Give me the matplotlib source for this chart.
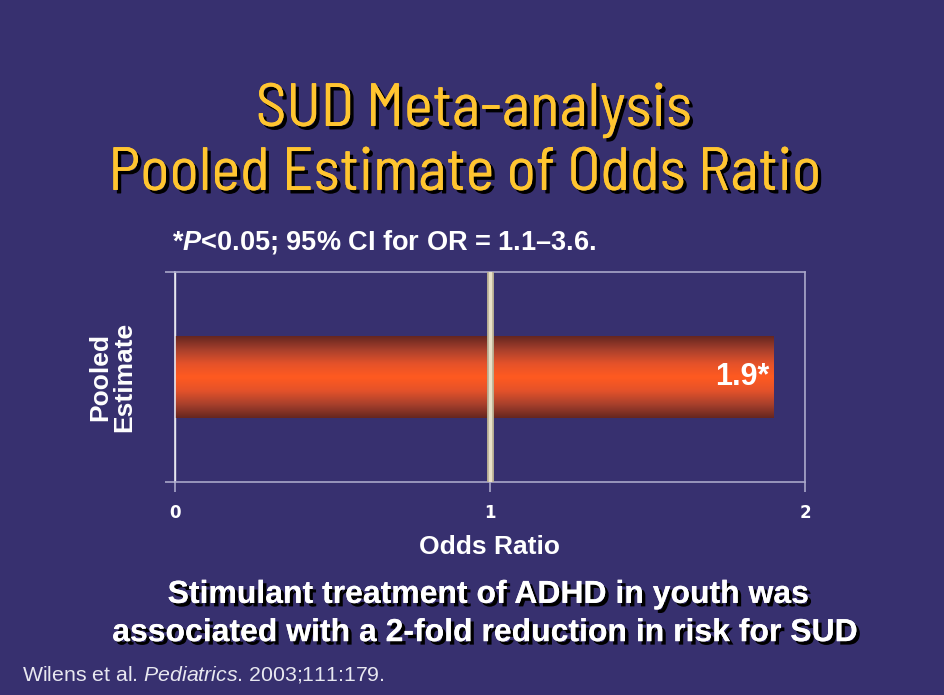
import numpy as np
import matplotlib
matplotlib.use('Agg')
import matplotlib.pyplot as plt
import matplotlib.patheffects as pe
from matplotlib.colors import LinearSegmentedColormap

plt.rcParams['mathtext.fontset'] = 'custom'
plt.rcParams['mathtext.it'] = 'Liberation Sans:italic'
plt.rcParams['mathtext.bfit'] = 'Liberation Sans:italic:bold'
plt.rcParams['mathtext.rm'] = 'Liberation Sans'

# data
categories = ['Pooled\nEstimate']
odds_ratio = [1.9]
bar_labels = ['1.9*']
x_ticks = [0, 1, 2]

bg = '#37306f'
title_col = '#ffc530'
title_font = ['Barlow Semi Condensed', 'Archivo Narrow', 'Liberation Sans']

fig = plt.figure(figsize=(9.45, 6.95), dpi=100)
fig.patch.set_facecolor(bg)

shadow = [pe.withSimplePatchShadow(offset=(2.5, -2.5), shadow_rgbFace='black', alpha=1.0), pe.Normal()]

# title
fig.text(0.5016, 0.8187, 'SUD Meta-analysis', ha='center', va='baseline', color=title_col,
         fontsize=44, family=title_font, path_effects=shadow)
fig.text(0.492, 0.7266, 'Pooled Estimate of Odds Ratio', ha='center', va='baseline', color=title_col,
         fontsize=44, family=title_font, path_effects=shadow)

# footnote above chart
fig.text(0.182, 0.652, r'*$\mathbfit{P}$<0.05; 95% CI for OR = 1.1–3.6.', ha='left', va='center',
         color='white', fontsize=19.5, fontweight='bold', family='Liberation Sans')

ax = fig.add_axes([0.185, 0.3065, 0.667, 0.302])
ax.set_facecolor(bg)

y = np.arange(len(categories))
bars = ax.barh(y, odds_ratio, height=0.78, color='none', edgecolor='none', zorder=2)

# gradient fill for the bar
cmap = LinearSegmentedColormap.from_list('bar', ['#652620', '#a8402c', '#e4522a', '#ff5a20',
                                                  '#e4522a', '#a8402c', '#652620'])
grad = np.linspace(0, 1, 256).reshape(-1, 1)
for b, lab in zip(bars, bar_labels):
    x0, y0 = b.get_x(), b.get_y()
    im = ax.imshow(grad, cmap=cmap, aspect='auto', extent=[x0, x0 + b.get_width(), y0, y0 + b.get_height()],
                   zorder=2, interpolation='bicubic')
    im.set_clip_path(b)
    ax.text(x0 + b.get_width() - 0.012, y0 + b.get_height() / 2, lab, ha='right', va='center',
            color='white', fontsize=22, fontweight='bold', family='Liberation Sans', zorder=4)

ax.set_xlim(0, 2)
ax.set_ylim(-1, 1)

# reference line at OR = 1
ax.axvline(1, color='#b8ae92', lw=5, zorder=3)
ax.axvline(1, color='#e8e0c8', lw=2.5, zorder=3)

for s in ['left', 'right', 'top', 'bottom']:
    ax.spines[s].set_color('#a8a6c8')
    ax.spines[s].set_linewidth(1.2)
ax.spines['left'].set_color('#e8e8f0')

ax.set_xticks(x_ticks)
ax.set_xticklabels([str(t) for t in x_ticks], color='white', fontsize=12, fontweight='bold')
ax.set_yticks([-1, 1])
ax.set_yticklabels([])
ax.tick_params(axis='both', direction='out', length=7, color='#a8a6c8', width=1.2)
ax.tick_params(axis='x', pad=9)
ax.grid(axis='x', color='#e0e0ea', lw=1, zorder=1)

ax.set_xlabel('Odds Ratio', color='white', fontsize=19, fontweight='bold', family='Liberation Sans', labelpad=9)
fig.text(0.119, 0.457, categories[0], rotation=90, ha='center', va='center', color='white',
         fontsize=19, fontweight='bold', family='Liberation Sans', linespacing=1.0)

# bottom statement
fig.text(0.517, 0.144, 'Stimulant treatment of ADHD in youth was', ha='center', va='center', color='white',
         fontsize=23, fontweight='bold', family='Liberation Sans', path_effects=shadow)
fig.text(0.513, 0.089, 'associated with a 2-fold reduction in risk for SUD', ha='center', va='center',
         color='white', fontsize=23, fontweight='bold', family='Liberation Sans', path_effects=shadow)

fig.text(0.023, 0.03, r'Wilens et al. $\mathit{Pediatrics}$. 2003;111:179.', ha='left', va='center',
         color='#e8e8f0', fontsize=15.3, family='Liberation Sans')

fig.savefig('out.png', dpi=100, facecolor=fig.get_facecolor())
